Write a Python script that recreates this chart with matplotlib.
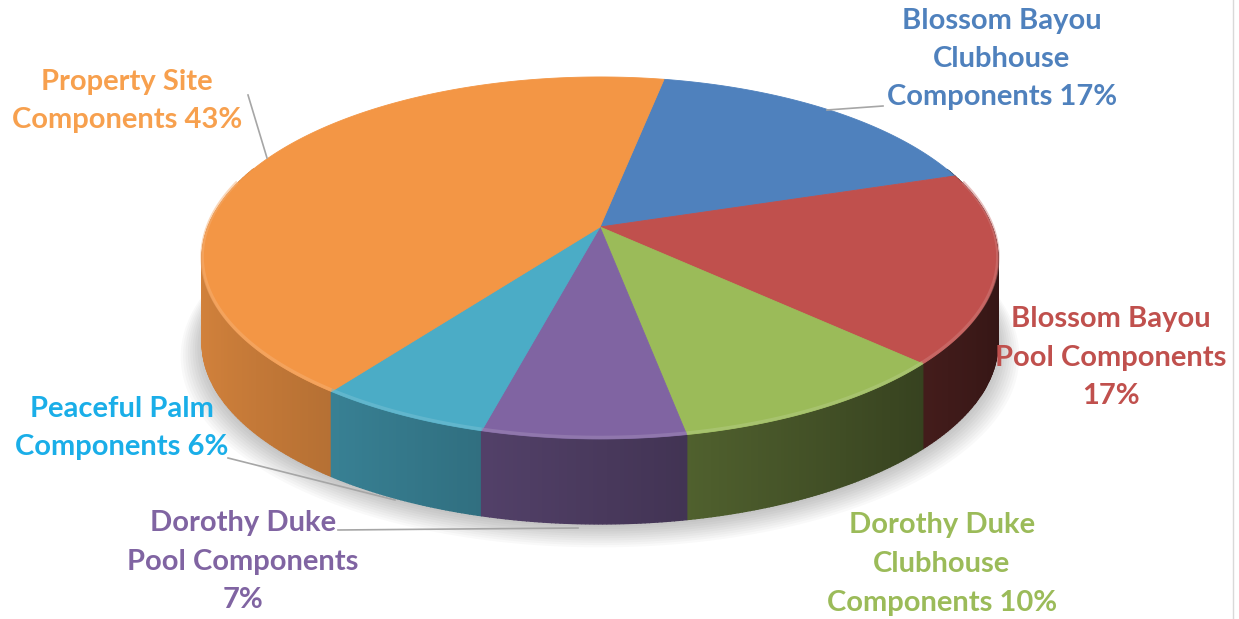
import numpy as np
import matplotlib.pyplot as plt
from matplotlib.patches import Polygon
from matplotlib.colors import to_rgb

# data
names = ["Blossom Bayou Clubhouse Components", "Blossom Bayou Pool Components",
         "Dorothy Duke Clubhouse Components", "Dorothy Duke Pool Components",
         "Peaceful Palm Components", "Property Site Components"]
shares = [17, 17, 10, 7, 6, 43]
label_lines = [["Blossom Bayou", "Clubhouse", "Components 17%"],
               ["Blossom Bayou", "Pool Components", "17%"],
               ["Dorothy Duke", "Clubhouse", "Components 10%"],
               ["Dorothy Duke", "Pool Components", "7%"],
               ["Peaceful Palm", "Components 6%"],
               ["Property Site", "Components 43%"]]
colors = ["#4F81BD", "#C0504D", "#9BBB59", "#8064A2", "#4BACC6", "#F39645"]
text_colors = ["#4F81BD", "#C0504D", "#9BBB59", "#8064A2", "#1AAEE8", "#F7A04E"]

# layout (pixels)
label_pos = [(1002, 59), (1111, 358), (942, 564), (243, 562), (122, 428), (127, 101)]
leaders = [[(883, 106), (827, 110)], None, None,
           [(338, 530), (578, 528)],
           [(228, 458), (395, 500)],
           [(248, 95), (267, 158)]]
CX, CY = 600, 227
A, B, K = 392, 175.7, 0.171
D = 85
START = 11

plt.rcParams['font.family'] = ['Lato', 'DejaVu Sans']

def proj(theta, drop=0.0):
    t = np.radians(theta)
    u, v = np.sin(t), -np.cos(t)
    w = 1 - K * v
    return CX + A * u / w, CY + B * v / w + drop

def shade(c, f):
    r, g, b = to_rgb(c)
    return (r * f, g * f, b * f)

def lighten(c, f):
    r, g, b = to_rgb(c)
    return (r + (1 - r) * f, g + (1 - g) * f, b + (1 - b) * f)

fig = plt.figure(figsize=(12.39, 6.19), dpi=100)
ax = fig.add_axes([0, 0, 1, 1])
ax.set_xlim(0, 1239)
ax.set_ylim(619, 0)
ax.axis('off')

# soft shadow
ring = np.linspace(0, 360, 361)
bx, by = proj(ring, D)
for i in range(10):
    s = 1.0 + 0.006 * i
    ax.add_patch(Polygon(np.column_stack([CX + (bx - CX) * s, CY + D + (by - CY - D) * s + 3 + i]),
                         closed=True, facecolor='#000000', edgecolor='none', alpha=0.025, zorder=1))

bounds = START + 360 * np.concatenate([[0], np.cumsum(shares)]) / sum(shares)

# sides
quads = []
for i, c in enumerate(colors):
    th = np.linspace(bounds[i], bounds[i + 1], max(3, int((bounds[i + 1] - bounds[i]) * 2)))
    for a0, a1 in zip(th[:-1], th[1:]):
        vm = -np.cos(np.radians((a0 + a1) / 2))
        if vm < -0.35:
            continue
        um = np.sin(np.radians((a0 + a1) / 2))
        f = 0.57 - 0.3 * um
        x0, y0 = proj(a0)
        x1, y1 = proj(a1)
        pts = [(x0, y0), (x1, y1), (x1, y1 + D), (x0, y0 + D)]
        quads.append((vm, pts, shade(c, f)))
quads.sort(key=lambda q: q[0])
for vm, pts, fc in quads:
    ax.add_patch(Polygon(pts, closed=True, facecolor=fc, edgecolor=fc, lw=1.0, zorder=2))

# top faces
for i, c in enumerate(colors):
    th = np.linspace(bounds[i], bounds[i + 1], 200)
    x, y = proj(th)
    pts = np.column_stack([np.r_[CX, x], np.r_[CY, y]])
    ax.add_patch(Polygon(pts, closed=True, facecolor=c, edgecolor=c, lw=0.6, zorder=3))
    # bevel highlight on front rim
    lo, hi = max(bounds[i], 75), min(bounds[i + 1], 285)
    if hi > lo:
        th2 = np.linspace(lo, hi, 100)
        x2, y2 = proj(th2)
        ax.plot(x2, y2 - 1.5, color=lighten(c, 0.25), lw=2.5, alpha=0.5, zorder=4,
                solid_capstyle='butt')

# leader lines
for ld in leaders:
    if ld:
        ax.plot([p[0] for p in ld], [p[1] for p in ld], color='#A6A6A6', lw=1.2, zorder=5)

# labels
for lines, (lx, ly), tc in zip(label_lines, label_pos, text_colors):
    n = len(lines)
    for j, s in enumerate(lines):
        ax.text(lx, ly + (j - (n - 1) / 2) * 38.5, s, ha='center', va='center',
                fontsize=21, fontweight='bold', color=tc, zorder=6)

ax.plot([1233, 1233], [0, 619], color='#D9D9D9', lw=1)

fig.savefig('out.png', dpi=100)
